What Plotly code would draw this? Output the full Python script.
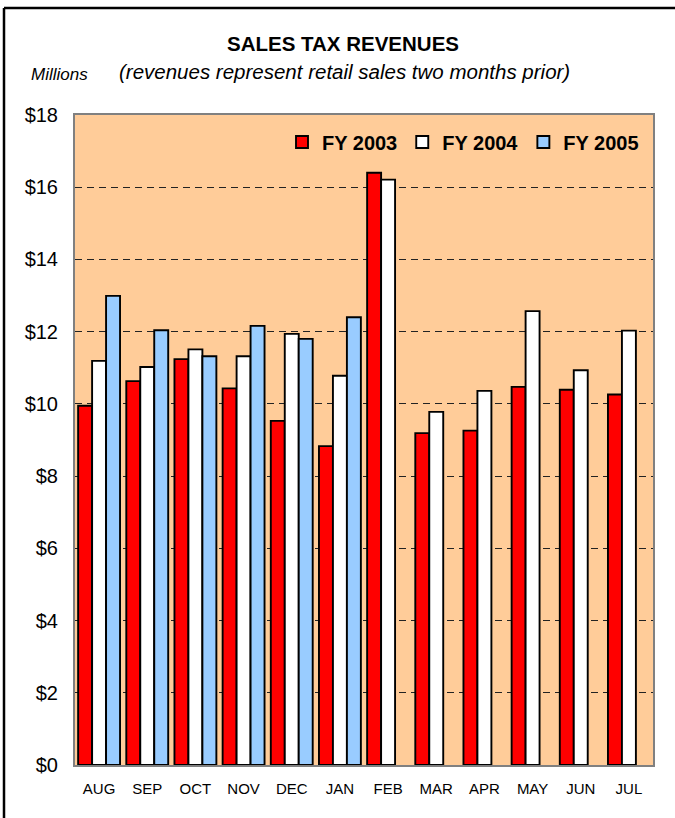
import plotly.graph_objects as go

months = ["AUG", "SEP", "OCT", "NOV", "DEC", "JAN", "FEB", "MAR", "APR", "MAY", "JUN", "JUL"]
fy2003 = [9.95, 10.63, 11.24, 10.43, 9.53, 8.83, 16.40, 9.19, 9.26, 10.47, 10.39, 10.26]
fy2004 = [11.19, 11.02, 11.51, 11.32, 11.94, 10.78, 16.21, 9.78, 10.36, 12.57, 10.93, 12.03]
fy2005 = [12.99, 12.04, 11.32, 12.16, 11.80, 12.40, None, None, None, None, None, None]
series_names = ["FY 2003", "FY 2004", "FY 2005"]
series_colors = ["#FF0000", "#FFFFFF", "#99CCFF"]
y_ticks = [0, 2, 4, 6, 8, 10, 12, 14, 16, 18]

W, H = 675, 818
ML, MR, MT, MB = 75, 22, 115, 53
PW, PH = W - ML - MR, H - MT - MB


def px(x):
    return (x - ML) / PW


def py(y):
    return (H - MB - y) / PH


FONT = "Arial, Liberation Sans, sans-serif"

fig = go.Figure()
for name, vals, col in zip(series_names, [fy2003, fy2004, fy2005], series_colors):
    fig.add_trace(go.Bar(
        x=months, y=vals, name=name,
        marker=dict(color=col, line=dict(color="#000000", width=1.9)),
    ))

fig.update_layout(
    width=W, height=H,
    margin=dict(l=ML, r=MR, t=MT, b=MB, pad=0),
    paper_bgcolor="#FFFFFF",
    plot_bgcolor="#FFCC99",
    barmode="group", bargap=0.13, bargroupgap=0,
    font=dict(family=FONT, color="#000000"),
    showlegend=True,
    legend=dict(
        orientation="h", x=px(644), xanchor="right", y=py(142), yanchor="middle",
        bgcolor="rgba(0,0,0,0)", font=dict(size=20, family=FONT, color="#000000", weight="bold"),
        itemwidth=30, traceorder="normal",
    ),
    xaxis=dict(
        showgrid=False, showline=True, linecolor="#808080", linewidth=2, mirror=True,
        ticks="", tickfont=dict(size=15, family=FONT), ticklabelstandoff=9,
    ),
    yaxis=dict(
        range=[0, 18], tickvals=y_ticks, ticktext=["$%d" % v for v in y_ticks],
        showgrid=True, gridcolor="#222222", gridwidth=1, griddash="7px,5px",
        showline=True, linecolor="#808080", linewidth=2, mirror=True,
        ticks="", tickfont=dict(size=20, family=FONT), ticklabelstandoff=11,
        zeroline=False,
    ),
    annotations=[
        dict(text="<b>SALES TAX REVENUES</b>", x=px(343), y=py(44), xref="paper", yref="paper",
             showarrow=False, xanchor="center", yanchor="middle", font=dict(size=20.5, family=FONT)),
        dict(text="<i>(revenues represent retail sales two months prior)</i>", x=px(344), y=py(72),
             xref="paper", yref="paper", showarrow=False, xanchor="center", yanchor="middle",
             font=dict(size=20.5, family=FONT)),
        dict(text="<i>Millions</i>", x=px(59), y=py(74), xref="paper", yref="paper",
             showarrow=False, xanchor="center", yanchor="middle", font=dict(size=17, family=FONT)),
    ],
    shapes=[
        dict(type="line", xref="paper", yref="paper", x0=px(4), x1=px(700), y0=py(8), y1=py(8),
             line=dict(color="#000000", width=2.5)),
        dict(type="line", xref="paper", yref="paper", x0=px(4), x1=px(4), y0=py(8), y1=py(900),
             line=dict(color="#000000", width=2.5)),
    ],
)

fig.write_html(
    "out.html",
    config={"displayModeBar": False},
    post_script="document.body.style.margin='0px';document.body.style.overflow='hidden';",
)
